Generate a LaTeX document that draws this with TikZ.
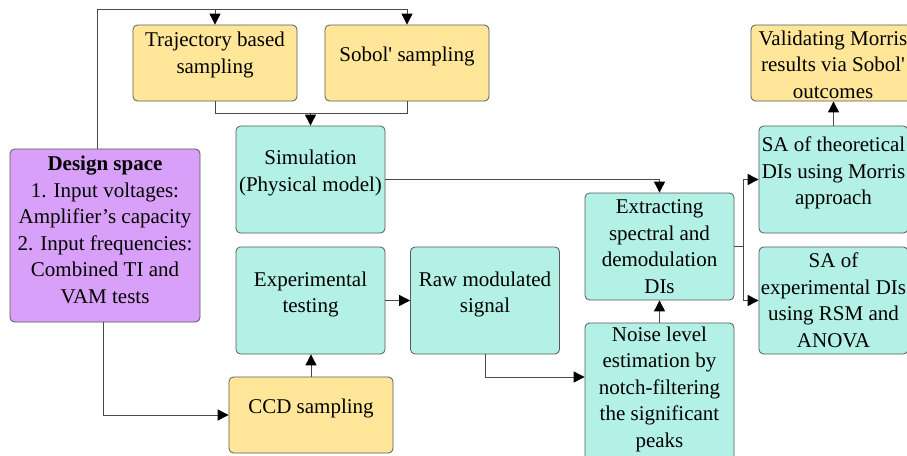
\documentclass[tikz,border=0pt]{standalone}
\usepackage{fontspec}
\setmainfont{Liberation Serif}
\newfontfamily\plainserif{Liberation Serif}[Ligatures=TeXOff]
\usetikzlibrary{arrows.meta}
\definecolor{yl}{HTML}{FFE699}
\definecolor{tl}{HTML}{B3F0E6}
\definecolor{pp}{HTML}{D9A0FA}
\definecolor{bd}{HTML}{595959}
\definecolor{ln}{HTML}{4A4A4A}
\begin{document}
\begin{tikzpicture}[x=1pt,y=-1pt,
  box/.style={draw=bd,line width=0.8pt,rounded corners=4.5pt,inner sep=0pt,minimum width=149,minimum height=107},
  ybox/.style={box,fill=yl,minimum width=164,minimum height=76},
  tbox/.style={box,fill=tl},
  txt/.style={font=\fontsize{21}{26.5}\selectfont,align=center,inner sep=0pt},
  arr/.style={draw=ln,line width=0.9pt,-{Triangle[length=11pt,width=11pt,color=black]}},
  con/.style={draw=ln,line width=0.9pt}]
\clip (0,0) rectangle (907,455);
\fill[white] (0,0) rectangle (907,455);
% boxes
\node[ybox] (traj) at (215,63) {};
\node[ybox] (sobol) at (407,63) {};
\node[tbox] (sim) at (310.5,179.5) {};
\node[box,fill=pp,minimum width=190,minimum height=173] (design) at (105,235.5) {};
\node[tbox] (exp) at (310.5,300.5) {};
\node[tbox] (raw) at (485,300.5) {};
\node[ybox] (ccd) at (311,415) {};
\node[tbox] (extr) at (659.5,246.5) {};
\node[tbox,minimum height=138] (noise) at (659.5,392) {};
\node[ybox] (valid) at (833,63) {};
\node[tbox] (sat) at (833.5,179.5) {};
\node[tbox] (sae) at (833.5,300.5) {};
% texts
\node[txt] (traj-t) at ([yshift=8pt]traj.center) {Trajectory based\\sampling};
\node[txt] (sobol-t) at ([yshift=7pt]sobol.center) {Sobol{\plainserif'} sampling};
\node[txt] (sim-t) at ([yshift=6.5pt]sim.center) {Simulation\\(Physical model)};
\node[txt] (design-t) at ([yshift=5.5pt]design.center) {\textbf{Design space}\\1. Input voltages:\\Amplifier’s capacity\\2. Input frequencies:\\Combined TI and\\VAM tests};
\node[txt] (exp-t) at ([yshift=6pt]exp.center) {Experimental\\testing};
\node[txt] (raw-t) at ([yshift=6pt]raw.center) {Raw modulated\\signal};
\node[txt] (ccd-t) at ([yshift=7pt]ccd.center) {CCD sampling};
\node[txt] (extr-t) at (extr.center) {Extracting\\spectral and\\demodulation\\DIs};
\node[txt] (noise-t) at (659.5,389) {Noise level\\estimation by\\notch-filtering\\the significant\\peaks};
\node[txt] (valid-t) at ([yshift=-1.5pt]valid.center) {Validating Morris\\results via Sobol{\plainserif'}\\outcomes};
\node[txt] (sat-t) at ([yshift=6.5pt]sat.center) {SA of theoretical\\DIs using Morris\\approach};
\node[txt] (sae-t) at (sae.center) {SA of\\experimental DIs\\using RSM and\\ANOVA};
% helper coordinates
\coordinate (ytop) at (0,9);
\coordinate (ymid) at (0,113);
\coordinate (y377) at (0,377);
\coordinate (split) at (743,246.5);
% connectors
\draw[arr] ([xshift=-8pt]design.north) |- (traj.north |- ytop) -- (traj.north);
\draw[arr] (traj.north |- ytop) -- (sobol.north |- ytop) -- (sobol.north);
\draw[con] (traj.south) |- (sobol.south |- ymid) -- (sobol.south);
\draw[arr] (sim.north |- ymid) -- (sim.north);
\draw[arr] (sim.east) -| (extr.north);
\draw[arr] (exp.east) -- (raw.west);
\draw[arr] (raw.south) |- (noise.west |- y377);
\draw[arr] (noise.north) -- (extr.south);
\draw[con] (extr.east) -- (split);
\draw[arr] (split) |- (sat.west);
\draw[arr] (split) |- (sae.west);
\draw[arr] (sat.north) -- (sat.north |- valid.south);
\draw[arr] ([xshift=-2pt]design.south) |- (ccd.west);
\draw[arr] (ccd.north) -- (ccd.north |- exp.south);
\end{tikzpicture}
\end{document}
